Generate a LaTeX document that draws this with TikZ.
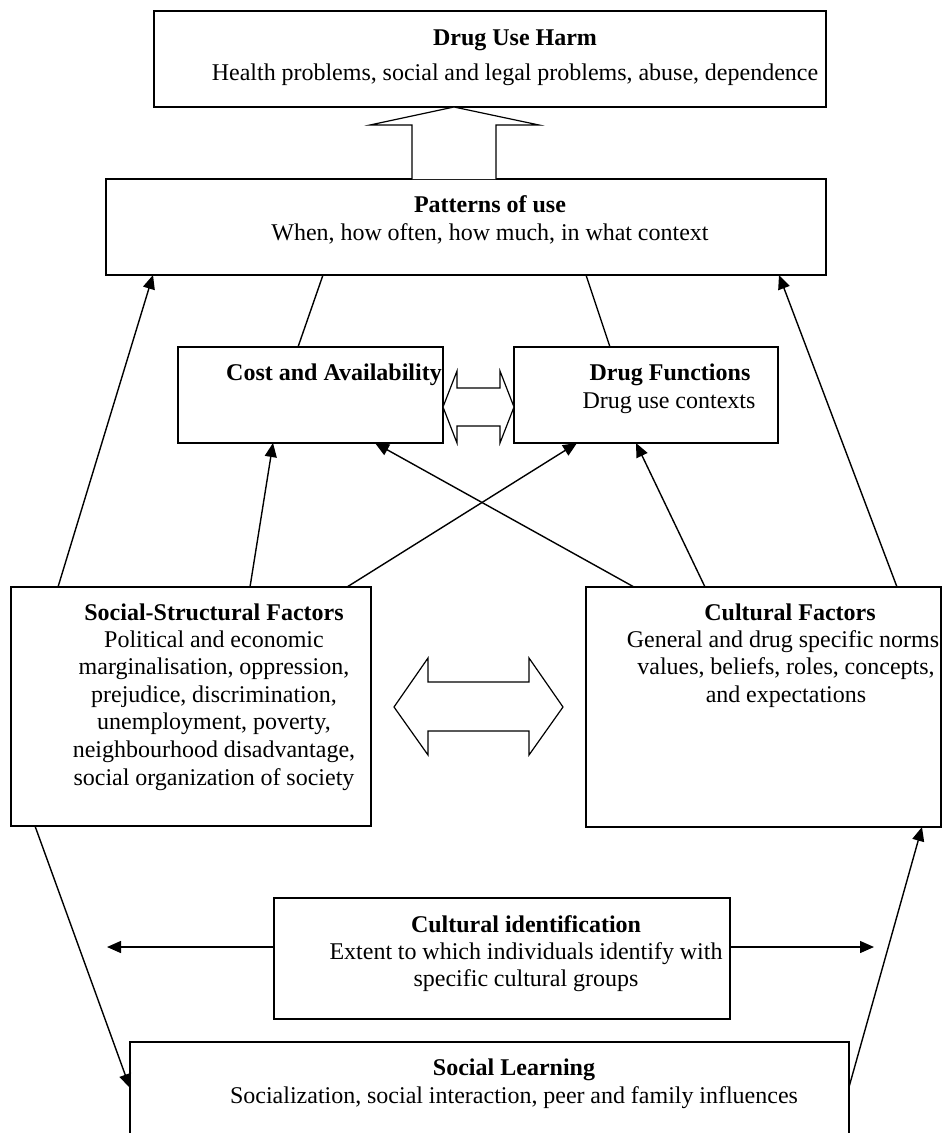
\documentclass[tikz,border=0pt]{standalone}
\usepackage{fontspec}
\setmainfont{Liberation Serif}
\newcommand\tsp{\spaceskip=5.8pt plus 1pt\relax}
\usetikzlibrary{arrows.meta}
\begin{document}
\begin{tikzpicture}[x=1pt,y=-1pt,
  box/.style={draw, line width=1.6pt, inner sep=0pt, outer sep=0pt, anchor=north west},
  conn/.style={line width=1.4pt},
  arr/.style={conn, -{Triangle[length=14pt,width=12pt]}},
  hollow/.style={draw, line width=1.2pt, fill=white, line join=miter},
  ttl/.style={font=\fontsize{24}{27.6}\selectfont\bfseries, anchor=base, inner sep=0pt},
  txt/.style={font=\fontsize{24}{27.6}\selectfont, anchor=base, inner sep=0pt, text width=460pt}
]
\useasboundingbox (0,0) rectangle (942,1133);
\clip (0,0) rectangle (942,1133);

% boxes
\node[box, minimum width=672pt, minimum height=96pt] (harm) at (154,11) {};
\node[box, minimum width=720pt, minimum height=96pt] (pat) at (106,179) {};
\node[box, minimum width=265pt, minimum height=96pt] (cost) at (178,347) {};
\node[box, minimum width=264pt, minimum height=96pt] (df) at (514,347) {};
\node[box, minimum width=360pt, minimum height=239pt] (ss) at (11,587) {};
\node[box, minimum width=355pt, minimum height=240pt] (cf) at (586,587) {};
\node[box, minimum width=456pt, minimum height=121pt] (ci) at (274,898) {};
\node[box, minimum width=719pt, minimum height=120pt] (sl) at (130,1042) {};

% texts
\node[ttl] (harmT) at (515,45) {Drug Use Harm};
\node[txt, text width=700pt] (harmS) at (515,80) {\centering\tsp Health problems, social and legal problems, abuse, dependence\par};
\node[ttl] (patT) at (490,212) {Patterns of use};
\node[txt] (patS) at (490,240) {\centering\tsp When, how often, how much, in what context\par};
\node[ttl] (costT) at (334,380) {Cost and Availability};
\node[ttl] (dfT) at (670,380) {Drug Functions};
\node[txt] (dfS) at (669,408) {\centering\tsp Drug use contexts\par};
\node[ttl] (ssT) at (214,620) {Social-Structural Factors};
\node[txt] (ssS) at (214,647) {\centering\tsp Political and economic\\ marginalisation, oppression,\\ prejudice, discrimination,\\ unemployment, poverty,\\ neighbourhood disadvantage,\\ social organization of society\par};
\node[ttl] (cfT) at (790,620) {Cultural Factors};
\node[txt] (cfS) at (786,647) {\centering\tsp General and drug specific norms\phantom{,}\\ values, beliefs, roles, concepts,\\ and expectations\par};
\node[ttl] (ciT) at (526,932) {Cultural identification};
\node[txt] (ciS) at (526,959) {\centering\tsp Extent to which individuals identify with\\ specific cultural groups\par};
\node[ttl] (slT) at (514,1075) {Social Learning};
\node[txt, text width=700pt] (slS) at (514,1103) {\centering\tsp Socialization, social interaction, peer and family influences\par};

% hollow block arrows
\draw[hollow] (412,179) -- (412,125) -- (370,125) -- (454,107) -- (539,125) -- (496,125) -- (496,179);
\draw[hollow] (443,407) -- (457,371) -- (457,388) -- (500,388) -- (500,371) -- (514,407)
  -- (500,443) -- (500,426) -- (457,426) -- (457,443) -- cycle;
\draw[hollow] (394,707) -- (428,658) -- (428,682) -- (529,682) -- (529,658) -- (563,707)
  -- (529,755) -- (529,731) -- (428,731) -- (428,755) -- cycle;

% connectors
\draw[conn] ([xshift=217pt]pat.south west) -- ([xshift=120pt]cost.north west);
\draw[conn] ([xshift=480pt]pat.south west) -- ([xshift=96pt]df.north west);
\draw[arr] ([xshift=47pt]ss.north west) -- ([xshift=47pt]pat.south west);
\draw[arr] ([xshift=239pt]ss.north west) -- ([xshift=95pt]cost.south west);
\draw[arr] ([xshift=336pt]ss.north west) -- ([xshift=63pt]df.south west);
\draw[arr] ([xshift=48pt]cf.north west) -- ([xshift=197pt]cost.south west);
\draw[arr] ([xshift=119pt]cf.north west) -- ([xshift=122pt]df.south west);
\draw[arr] ([xshift=311pt]cf.north west) -- ([xshift=673pt]pat.south west);
\draw[arr] ([xshift=24pt]ss.south west) -- ([yshift=-46pt]sl.north west);
\draw[arr] ([yshift=-45pt]sl.north east) -- ([xshift=336pt]cf.south west);
\coordinate (ciL) at (107,947);
\coordinate (ciR) at (874,947);
\draw[arr] ([yshift=-49pt]ci.north west) -- (ciL);
\draw[arr] ([yshift=-49pt]ci.north east) -- (ciR);
\end{tikzpicture}
\end{document}
